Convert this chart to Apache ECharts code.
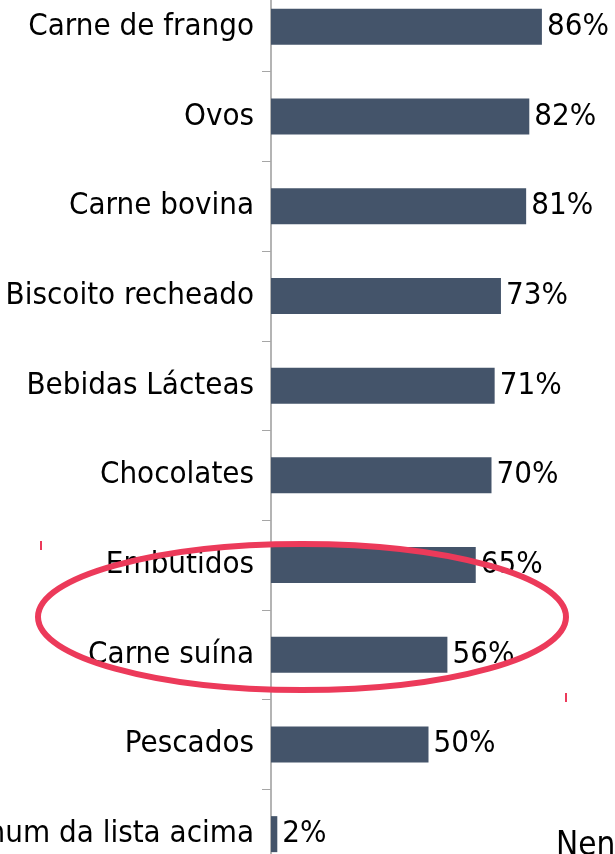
<!DOCTYPE html>
<html>
<head>
<meta charset="utf-8">
<script src="https://cdn.jsdelivr.net/npm/echarts@6/dist/echarts.min.js"></script>
<style>
  html, body { margin: 0; padding: 0; background: #ffffff; }
  #chart { width: 615px; height: 854px; }
</style>
</head>
<body>
<div id="chart"></div>
<script>
  // dados
  var categorias = ['Carne de frango', 'Ovos', 'Carne bovina', 'Biscoito recheado', 'Bebidas Lácteas',
    'Chocolates', 'Embutidos', 'Carne suína', 'Pescados', 'Nenhum da lista acima'];
  var valores = [86, 82, 81, 73, 71, 70, 65, 56, 50, 2];

  var fonte = '"DejaVu Sans Condensed", sans-serif';

  var myChart = echarts.init(document.getElementById('chart'));

  var option = {
    animation: false,
    grid: {
      left: 271,
      right: 29,
      top: -18,
      bottom: -25,
      outerBoundsMode: 'none',
      containLabel: false
    },
    xAxis: {
      type: 'value',
      min: 0,
      max: 100,
      show: false
    },
    yAxis: {
      type: 'category',
      inverse: true,
      data: categorias,
      axisLine: { show: true, lineStyle: { color: '#b4b4b4', width: 2 } },
      axisTick: { show: true, length: 9, lineStyle: { color: '#a6a6a6', width: 1 } },
      axisLabel: {
        margin: 17,
        color: '#000',
        fontSize: 31,
        fontFamily: fonte
      }
    },
    series: [{
      type: 'bar',
      data: valores,
      barWidth: 36,
      itemStyle: { color: '#44546a' },
      label: {
        show: true,
        position: 'right',
        distance: 5,
        formatter: '{c}%',
        color: '#000',
        fontSize: 31,
        fontFamily: fonte
      }
    }],
    graphic: [
      {
        type: 'ellipse',
        shape: { cx: 302, cy: 617, rx: 264, ry: 73 },
        style: { fill: 'none', stroke: '#ec3a5a', lineWidth: 6 },
        z: 10
      },
      { type: 'rect', shape: { x: 40, y: 541, width: 2, height: 9 }, style: { fill: '#ec3a5a' }, z: 10 },
      { type: 'rect', shape: { x: 565, y: 693, width: 2, height: 9 }, style: { fill: '#ec3a5a' }, z: 10 },
      {
        type: 'text',
        left: 556,
        top: 830,
        style: { text: 'Nenhum da lista acima', fill: '#000', fontSize: 33, fontFamily: fonte }
      }
    ]
  };

  myChart.setOption(option);
</script>
</body>
</html>
